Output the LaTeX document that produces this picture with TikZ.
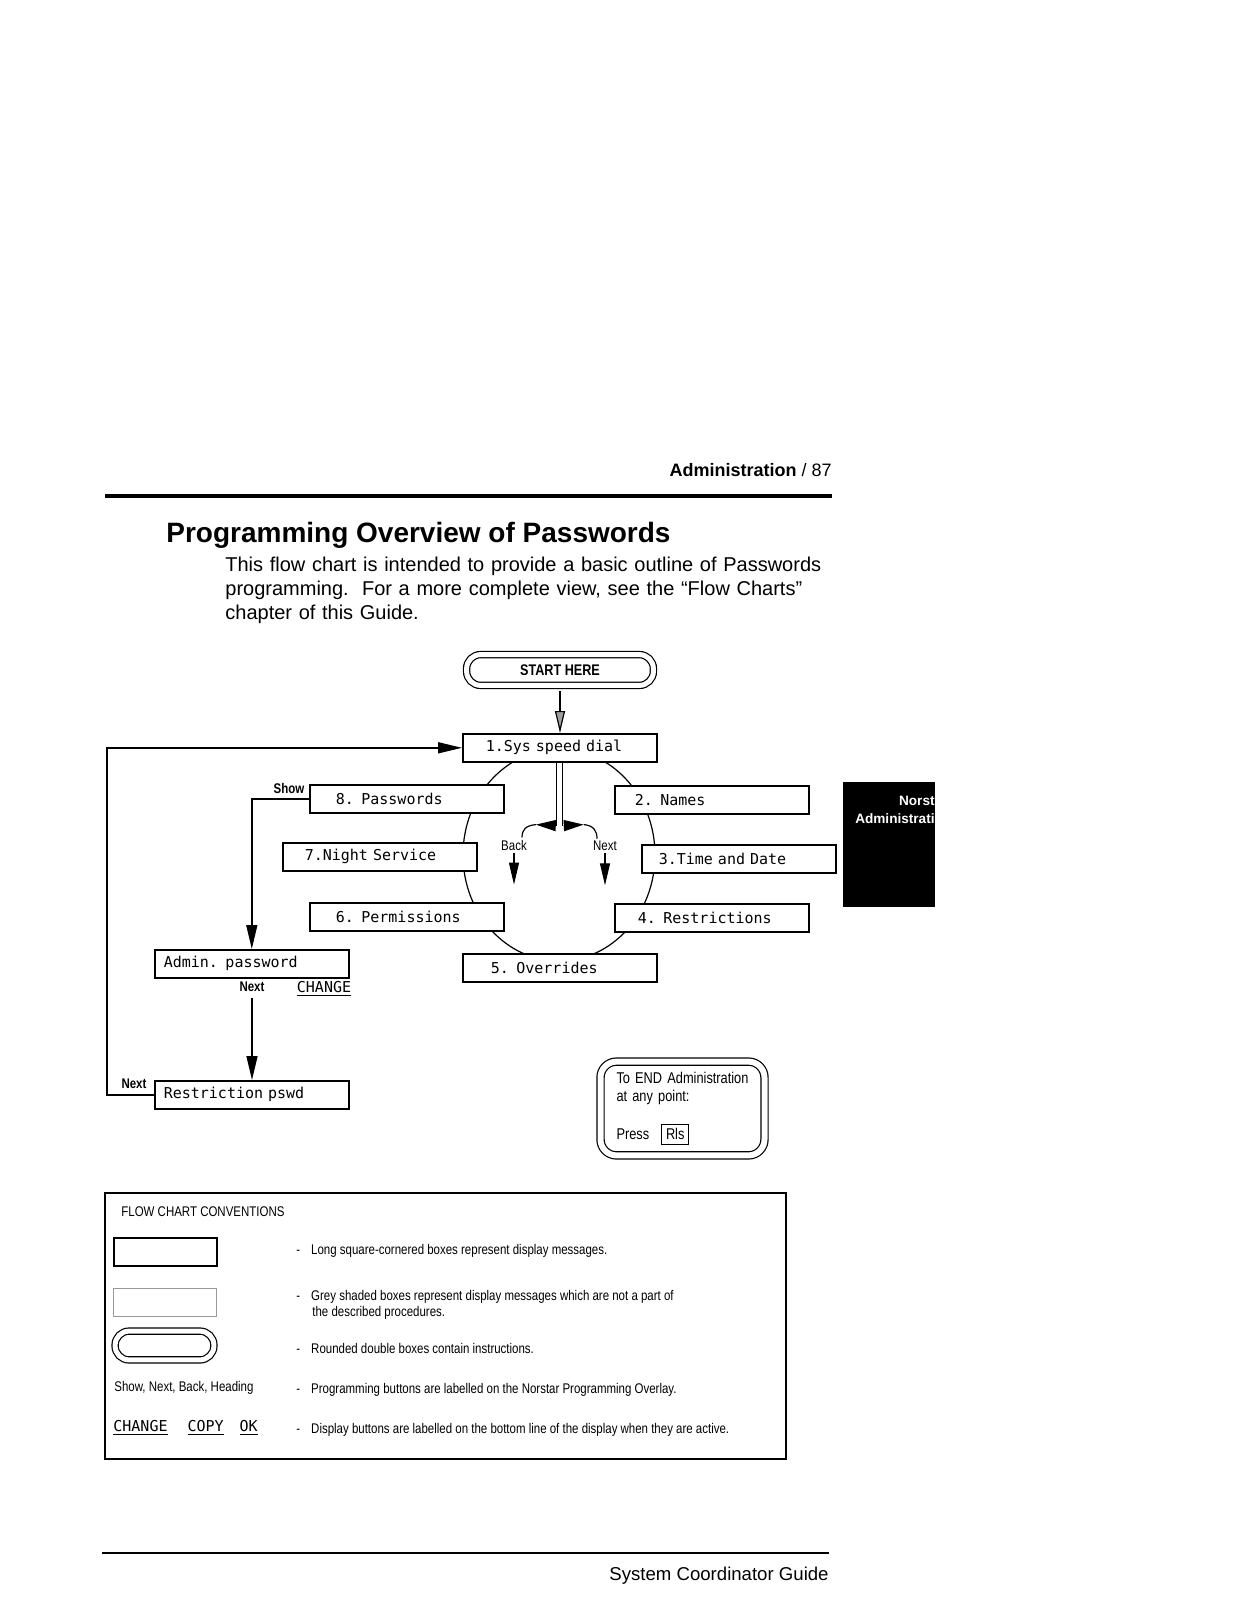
\documentclass[tikz,border=0pt]{standalone}
\usepackage{fontspec}
\setmainfont{Liberation Sans}
\newfontfamily\narrowfont[FakeStretch=0.82]{Liberation Sans}
\newfontfamily\lcdfont[WordSpace={1,0,0}]{DejaVu Sans Mono}
\usetikzlibrary{arrows.meta,positioning,calc}
\tikzset{disp/.style={draw,fill=white,line width=0.8pt,font=\lcdfont\fontsize{7.5}{9}\selectfont,text width=97pt,align=left,inner xsep=0pt,inner ysep=0pt,minimum height=14pt,anchor=north west,execute at begin node={\hspace*{#1}}}, legbox/.style={draw,line width=0.8pt,minimum width=51.5pt,minimum height=14pt,inner sep=0pt,anchor=north west}, instr/.style={draw,double,double distance=2.5pt,line width=0.6pt,rounded corners=7pt,inner sep=0pt}, btn/.style={font=\narrowfont\bfseries\fontsize{7}{8}\selectfont,inner sep=1pt}, legtext/.style={font=\narrowfont\fontsize{7}{8}\selectfont,inner sep=1pt}, flow/.style={-{Triangle[length=12pt,width=5.5pt]},line width=0.8pt}, curlhead/.style={-{Triangle[length=10pt,width=5.5pt]},line width=0.6pt}}

\begin{document}
\begin{tikzpicture}[x=0.5pt,y=-0.5pt]
\useasboundingbox (0,0) rectangle (1237,1600);
\node[anchor=base east,inner sep=0pt,font=\fontsize{9}{11}\selectfont] (pghead) at (832,476) {\textbf{Administration} / 87};
\draw[line width=2pt] (105,496) -- (832,496);
\node[anchor=base west,inner sep=0pt,font=\bfseries\fontsize{14}{17}\selectfont] (title) at (166,542) {Programming Overview of Passwords};
\node[anchor=base west,inner sep=0pt,text width=300pt,align=left,font=\fontsize{10}{12}\selectfont] (intro) at (225,571) {This flow chart is intended to provide a basic outline of Passwords\\programming.\ \ For a more complete view, see the “Flow Charts”\\chapter of this Guide.};
\node[instr,minimum width=93.4pt,minimum height=15.4pt,font=\narrowfont\bfseries\fontsize{7.7}{9}\selectfont] (start) at (560,670) {START HERE};
\draw[line width=0.6pt] (559,855) ellipse [x radius=48pt,y radius=53pt];
\node[disp=11.5pt] (sys) at (462,733) {1.Sys speed dial};
\node[disp=13pt] (pwd) at (309,784) {8. Passwords};
\node[disp=10pt] (names) at (614,785) {2. Names};
\node[disp=11pt] (night) at (282,842) {7.Night Service};
\node[disp=8.5pt] (time) at (641,844) {3.Time and Date};
\node[disp=13pt] (perm) at (309,902) {6. Permissions};
\node[disp=11.5pt] (restr) at (614,903) {4. Restrictions};
\node[disp=14pt] (over) at (462,953) {5. Overrides};
\node[disp=4.5pt] (admin) at (154,949) {Admin. password};
\node[disp=4.5pt] (rpswd) at (154,1080) {Restriction pswd};
\node[btn] (show) at (289,788) {Show};
\node[btn] (admnext) at (252,987) {Next};
\node[inner sep=1pt,font=\lcdfont\fontsize{7.5}{9}\selectfont] (change) at (324,989) {\underline{CHANGE}};
\node[btn] (rpnext) at (134,1084) {Next};
\node[legtext] (backlbl) at (514,845) {Back};
\node[legtext] (nextlbl) at (605,846) {Next};
\draw[line width=0.6pt,shorten <=2.5pt,-{Triangle[length=11pt,width=5pt,fill=gray!75]}] (start.south) -- (start.south |- sys.north);
\draw[flow] (rpswd.west) -- ++(-47,0) |- (sys.west);
\draw[flow] (pwd.west) -| (admin.north);
\draw[flow,shorten <=2pt] (admnext.south) -- (admnext.south |- rpswd.north);
\draw[double,double distance=2.4pt,line width=0.6pt] (sys.south) -- ++(0,63) coordinate (stem);
\draw[curlhead] ([xshift=-2pt]stem) -- ++(-20,-1) coordinate (tipl);
\draw[curlhead] ([xshift=2pt]stem) -- ++(20,-1) coordinate (tipr);
\draw[line width=0.6pt] (tipl) .. controls +(-10,1) and +(0,-8) .. ([xshift=4pt]backlbl.north);
\draw[line width=0.6pt] (tipr) .. controls +(10,1) and +(0,-8) .. ([xshift=-4pt]nextlbl.north);
\draw[-{Triangle[length=11pt,width=5pt]},line width=0.6pt] (backlbl.south) -- ++(0,32) coordinate (backend);
\draw[-{Triangle[length=11pt,width=5pt]},line width=0.6pt] (nextlbl.south) -- ++(0,32) coordinate (nextend);
\node[instr,rounded corners=8pt,double distance=3pt,text width=66pt,align=left,inner xsep=8pt,minimum height=46.9pt,font=\narrowfont\fontsize{7.8}{9}\selectfont] (endbox) at (682.5,1108.5) {To END Administration\\at any point:\\[8.5pt]Press\hspace{6pt}{\fboxsep=1.8pt\fboxrule=0.6pt\fbox{Rls}}};
\fill (843,782) rectangle (935,907);
\node[anchor=base east,inner sep=0pt,text=white,font=\bfseries\fontsize{6.8}{8}\selectfont] (tabtop) at (935,805) {Norst};
\node[anchor=base east,inner sep=0pt,text=white,font=\bfseries\fontsize{6.8}{8}\selectfont] (tabbot) at (935,823) {Administrati};
\node[draw,line width=0.7pt,minimum width=340.5pt,minimum height=133pt,inner sep=0pt] (conv) at (445.5,1326) {};
\node[legtext,anchor=west] (convhead) at (119,1212) {FLOW CHART CONVENTIONS};
\node[legbox] (sqbox) at (113,1237) {};
\node[legbox,draw=gray!80,line width=0.6pt] (greybox) at (113,1288) {};
\node[instr,minimum width=49.4pt,minimum height=14.4pt] (dblbox) at (164.5,1345.5) {};
\node[legtext,anchor=west] (btnkey) at (112,1388) {Show, Next, Back, Heading};
\node[anchor=west,inner sep=1pt,font=\lcdfont\fontsize{7.5}{9}\selectfont] (dispkey) at (111,1428) {\underline{CHANGE}\hspace{10pt}\underline{COPY}\hspace{8pt}\underline{OK}};
\node[legtext,anchor=west] (sqtext) at (294,1251) {-\hspace{5.5pt}Long square-cornered boxes represent display messages.};
\node[legtext,anchor=west,align=left] (greytext) at (294,1305) {-\hspace{5.5pt}Grey shaded boxes represent display messages which are not a part of\\\hspace*{8pt}the described procedures.};
\node[legtext,anchor=west] (dbltext) at (294,1348) {-\hspace{5.5pt}Rounded double boxes contain instructions.};
\node[legtext,anchor=west] (btntext) at (294,1390) {-\hspace{5.5pt}Programming buttons are labelled on the Norstar Programming Overlay.};
\node[legtext,anchor=west] (disptext) at (294,1430) {-\hspace{5.5pt}Display buttons are labelled on the bottom line of the display when they are active.};
\draw[line width=1pt] (102,1553) -- (829,1553);
\node[anchor=base east,inner sep=0pt,font=\fontsize{9.3}{11}\selectfont] (foot) at (829,1580) {System Coordinator Guide};
\end{tikzpicture}
\end{document}
